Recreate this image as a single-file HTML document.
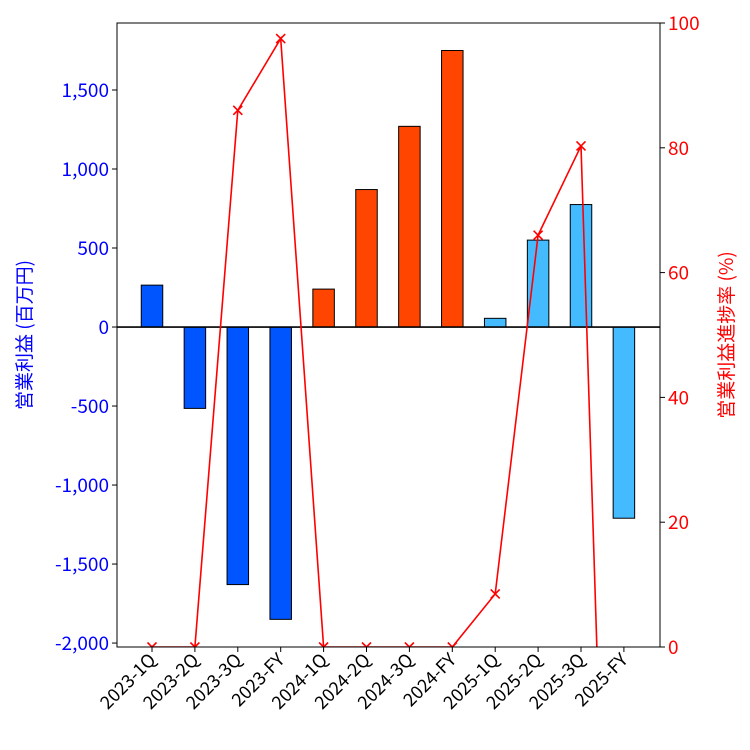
<!DOCTYPE html>
<html><head><meta charset="utf-8"><style>
html,body{margin:0;background:#fff;width:750px;height:750px;overflow:hidden}
svg{display:block}
svg text{font-family:"Noto Sans CJK JP","Liberation Sans",sans-serif}
</style></head><body>
<svg id="c" width="750" height="750" xmlns="http://www.w3.org/2000/svg"></svg>
<script>
const categories=["2023-1Q","2023-2Q","2023-3Q","2023-FY","2024-1Q","2024-2Q","2024-3Q","2024-FY","2025-1Q","2025-2Q","2025-3Q","2025-FY"];
const profits=[265,-515,-1630,-1850,240,870,1270,1750,55,550,775,-1210];
const progress=[0,0,86,97.5,0,0,0,0,8.5,66,80.3,-137];
const barColors=["#0055ff","#0055ff","#0055ff","#0055ff","#ff4500","#ff4500","#ff4500","#ff4500","#44bbff","#44bbff","#44bbff","#44bbff"];
const leftTicks=[-2000,-1500,-1000,-500,0,500,1000,1500];
const leftTickLabels=["-2,000","-1,500","-1,000","-500","0","500","1,000","1,500"];
const rightTicks=[0,20,40,60,80,100];
const NS="http://www.w3.org/2000/svg";
const svg=document.getElementById("c");
const L=117,R=660,T=23,B=647;
const yMin=-2025,yMax=1924;
const yL=v=>T+(yMax-v)/(yMax-yMin)*(B-T);
const yR=v=>B-v/100*(B-T);
const x=i=>152+i*42.9;
function el(t,a,p){const e=document.createElementNS(NS,t);for(const k in a)e.setAttribute(k,a[k]);(p||svg).appendChild(e);return e;}
const defs=el("defs",{});const cp=el("clipPath",{id:"clip"},defs);el("rect",{x:L,y:T,width:R-L,height:B-T},cp);
const bw=21.5;
profits.forEach((v,i)=>{const y0=yL(0),y1=yL(v);
 const r=el("rect",{x:x(i)-bw/2,y:Math.min(y0,y1),width:bw,height:Math.abs(y1-y0),fill:barColors[i],stroke:"#000","stroke-width":1});
 
 });
const z=el("line",{x1:L,x2:R,y1:yL(0),y2:yL(0),stroke:"#000","stroke-width":1.6});

const g=el("g",{"clip-path":"url(#clip)"});
const pl=el("polyline",{points:progress.map((v,i)=>x(i)+","+yR(v)).join(" "),fill:"none",stroke:"#ff0000","stroke-width":1.6},g);

progress.forEach((v,i)=>{const cx=x(i),cy=yR(v);
 const m=el("path",{d:`M${cx-4.5},${cy-4.5}L${cx+4.5},${cy+4.5}M${cx-4.5},${cy+4.5}L${cx+4.5},${cy-4.5}`,stroke:"#ff0000","stroke-width":1.6},g);
 });
const fr=el("rect",{x:L,y:T,width:R-L,height:B-T,fill:"none",stroke:"#000","stroke-width":1});

leftTicks.forEach((v,i)=>{const y=yL(v);el("line",{x1:L-5,x2:L,y1:y,y2:y,stroke:"#000"});
 const t=el("text",{x:L-8,y:y+7,"text-anchor":"end","font-size":19,fill:"#0000ff"});t.textContent=leftTickLabels[i];
 });
rightTicks.forEach(v=>{const y=yR(v);el("line",{x1:R,x2:R+5,y1:y,y2:y,stroke:"#000"});
 const t=el("text",{x:R+8,y:y+7,"font-size":19,fill:"#ff0000"});t.textContent=v;
 });
categories.forEach((c,i)=>{const cx=x(i);el("line",{x1:cx,x2:cx,y1:B,y2:B+5,stroke:"#000"});
 const t=el("text",{x:cx+5,y:B+14,"text-anchor":"end","font-size":18,fill:"#000",transform:`rotate(-45 ${cx+5} ${B+14})`});t.textContent=c;
 });
const yl=el("text",{x:0,y:0,"text-anchor":"middle","font-size":19,fill:"#0000ff",transform:`translate(31 335) rotate(-90)`});yl.textContent="営業利益 (百万円)";

const yr=el("text",{x:0,y:0,"text-anchor":"middle","font-size":19,fill:"#ff0000",transform:`translate(733 335) rotate(-90)`});yr.textContent="営業利益進捗率 (%)";

</script>
</body></html>
